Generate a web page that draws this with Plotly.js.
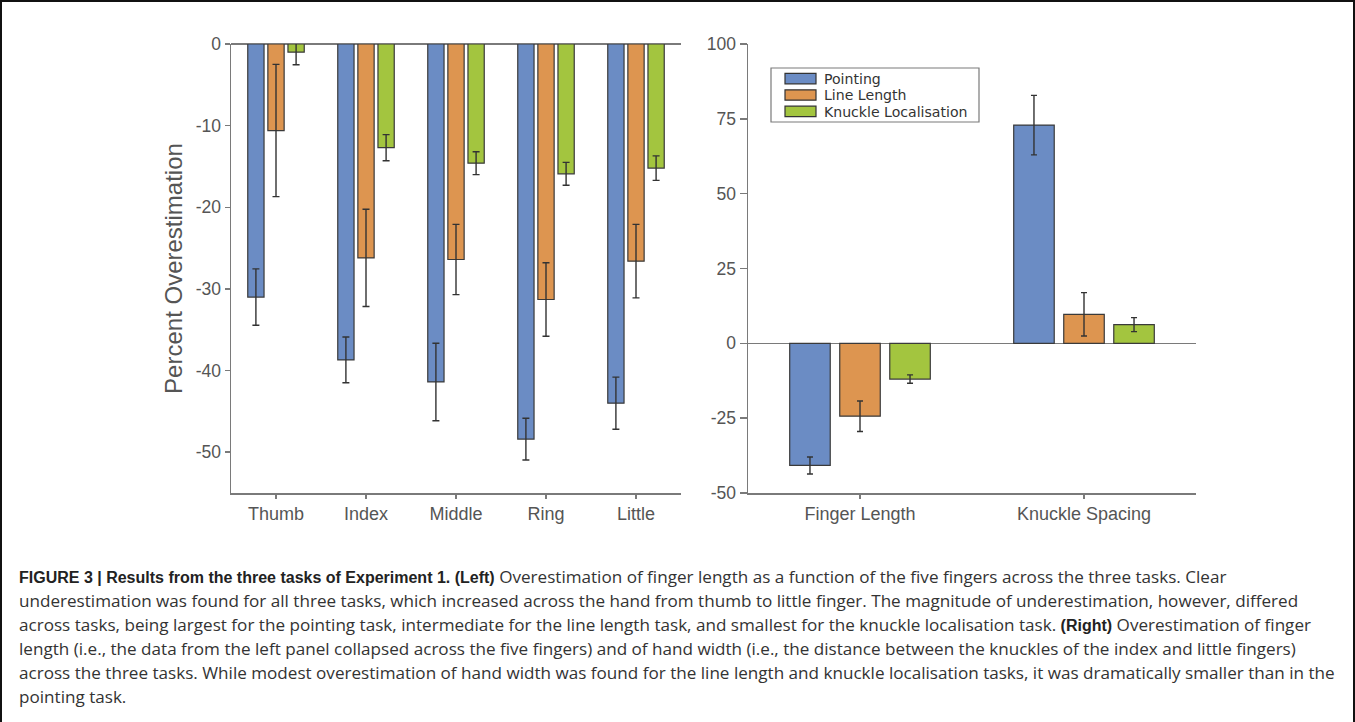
<!DOCTYPE html>
<html>
<head>
<meta charset="utf-8">
<script src="https://cdn.plot.ly/plotly-3.0.1.min.js"></script>
<style>
  html, body { margin: 0; padding: 0; background: #fff; }
  #chart { width: 1355px; height: 722px; }
</style>
</head>
<body>
<div id="chart"></div>
<script>
// ---- data ----
const seriesNames = ['Pointing', 'Line Length', 'Knuckle Localisation'];
const seriesColors = ['#6b8cc4', '#dd9550', '#a3c53f'];

const fingers = ['Thumb', 'Index', 'Middle', 'Ring', 'Little'];
const fingerPointing = [-31.0, -38.7, -41.4, -48.4, -44.0];
const fingerPointingErr = [3.45, 2.8, 4.75, 2.55, 3.2];
const fingerLineLength = [-10.6, -26.2, -26.4, -31.3, -26.6];
const fingerLineLengthErr = [8.1, 5.95, 4.3, 4.5, 4.5];
const fingerKnuckle = [-1.0, -12.7, -14.6, -15.9, -15.2];
const fingerKnuckleErr = [1.55, 1.6, 1.4, 1.4, 1.5];

const measures = ['Finger Length', 'Knuckle Spacing'];
const measurePointing = [-40.8, 72.9];
const measurePointingErr = [2.85, 9.95];
const measureLineLength = [-24.35, 9.7];
const measureLineLengthErr = [5.1, 7.25];
const measureKnuckle = [-11.95, 6.25];
const measureKnuckleErr = [1.4, 2.35];

const leftTickVals = [0, -10, -20, -30, -40, -50];
const leftTickText = ['0', '-10', '-20', '-30', '-40', '-50'];
const rightTickVals = [100, 75, 50, 25, 0, -25, -50];
const rightTickText = ['100', '75', '50', '25', '0', '-25', '-50'];

const yTitle = 'Percent Overestimation';

const captionBold1 = 'FIGURE 3 | Results from the three tasks of Experiment 1. (Left)';
const captionBold2 = '(Right)';
const captionLines = [
  '{B1} Overestimation of finger length as a function of the five fingers across the three tasks. Clear',
  'underestimation was found for all three tasks, which increased across the hand from thumb to little finger. The magnitude of underestimation, however, differed',
  'across tasks, being largest for the pointing task, intermediate for the line length task, and smallest for the knuckle localisation task. {B2} Overestimation of finger',
  'length (i.e., the data from the left panel collapsed across the five fingers) and of hand width (i.e., the distance between the knuckles of the index and little fingers)',
  'across the three tasks. While modest overestimation of hand width was found for the line length and knuckle localisation tasks, it was dramatically smaller than in the',
  'pointing task.'
];

// ---- build ----
const W = 1355, H = 722;
const px = x => x / W;
const py = y => 1 - y / H;
const FONT = 'Liberation Sans, Arial, sans-serif';

const leftSeries = [
  [fingerPointing, fingerPointingErr],
  [fingerLineLength, fingerLineLengthErr],
  [fingerKnuckle, fingerKnuckleErr]
];
const rightSeries = [
  [measurePointing, measurePointingErr],
  [measureLineLength, measureLineLengthErr],
  [measureKnuckle, measureKnuckleErr]
];

const errStyle = { type: 'data', visible: true, color: '#333333', thickness: 1.4, width: 3.5 };
const traces = [];
leftSeries.forEach((s, i) => {
  traces.push({
    type: 'bar', name: seriesNames[i], x: fingers, y: s[0],
    error_y: Object.assign({ array: s[1] }, errStyle),
    marker: { color: seriesColors[i], line: { color: '#3a3a3a', width: 1.2 } },
    xaxis: 'x', yaxis: 'y', showlegend: false, hoverinfo: 'x+y'
  });
});
rightSeries.forEach((s, i) => {
  traces.push({
    type: 'bar', name: seriesNames[i], x: measures, y: s[0],
    error_y: Object.assign({ array: s[1] }, errStyle, { width: 3 }),
    marker: { color: seriesColors[i], line: { color: '#3a3a3a', width: 1.2 } },
    xaxis: 'x2', yaxis: 'y2', showlegend: false, hoverinfo: 'x+y'
  });
});

const axisCommon = {
  showline: true, linecolor: '#7a7a7a', linewidth: 1.5,
  showgrid: false, ticks: 'outside', tickcolor: '#7a7a7a', tickwidth: 1.5,
  tickfont: { family: FONT, size: 17.5, color: '#555555' }
};

const shapes = [];
const annotations = [];

// custom legend box
shapes.push({ type: 'rect', xref: 'paper', yref: 'paper',
  x0: px(771), x1: px(979), y0: py(122), y1: py(68),
  line: { color: '#7a7a7a', width: 1.2 }, fillcolor: '#ffffff', layer: 'above' });
const legendRows = [78.6, 95.0, 111.4];
seriesNames.forEach((n, i) => {
  shapes.push({ type: 'rect', xref: 'paper', yref: 'paper',
    x0: px(785), x1: px(816), y0: py(legendRows[i] + 5.2), y1: py(legendRows[i] - 5.2),
    line: { color: '#333333', width: 1.2 }, fillcolor: seriesColors[i], layer: 'above' });
  annotations.push({ xref: 'paper', yref: 'paper', x: px(822), y: py(legendRows[i] + 0.3),
    xanchor: 'left', yanchor: 'middle', showarrow: false, text: n,
    font: { family: 'DejaVu Sans, Liberation Sans, sans-serif', size: 14.1, color: '#333333' } });
});

// figure frame
shapes.push({ type: 'line', xref: 'paper', yref: 'paper', x0: 0, x1: 1, y0: py(1), y1: py(1),
  line: { color: '#111111', width: 2 } });
shapes.push({ type: 'line', xref: 'paper', yref: 'paper', x0: px(1), x1: px(1), y0: 0, y1: 1,
  line: { color: '#111111', width: 2 } });
shapes.push({ type: 'line', xref: 'paper', yref: 'paper', x0: px(1354), x1: px(1354), y0: 0, y1: 1,
  line: { color: '#111111', width: 2 } });

// caption
const boldSpan = t => '<span style="font-family:Liberation Sans, Arial, sans-serif;font-size:16px;color:#222222"><b>' + t + '</b></span>';
const captionY = [576, 600, 624, 648, 672, 696];
captionLines.forEach((t, i) => {
  const txt = t.replace('{B1}', boldSpan(captionBold1)).replace('{B2}', boldSpan(captionBold2));
  annotations.push({ xref: 'paper', yref: 'paper', x: px(17), y: py(captionY[i]),
    xanchor: 'left', yanchor: 'middle', align: 'left', showarrow: false, text: txt,
    font: { family: 'Open Sans, Liberation Sans, Arial, sans-serif', size: 17.1, color: '#333333' } });
});

const layout = {
  width: W, height: H,
  margin: { l: 0, r: 0, t: 0, b: 0 },
  paper_bgcolor: '#ffffff', plot_bgcolor: '#ffffff',
  showlegend: false,
  barmode: 'group', bargap: 0.33, bargroupgap: 0.19,
  font: { family: FONT, color: '#555555' },
  xaxis: Object.assign({}, axisCommon, {
    domain: [px(231), px(681)], anchor: 'y', range: [-0.5, 4.5],
    ticklen: 4, tickfont: { family: FONT, size: 18, color: '#555555' }
  }),
  yaxis: Object.assign({}, axisCommon, {
    domain: [py(493), py(44)], anchor: 'x', range: [-55, 0],
    tickvals: leftTickVals, ticktext: leftTickText, ticklen: 5,
    zeroline: true, zerolinecolor: '#7a7a7a', zerolinewidth: 1.5,
    title: { text: yTitle, standoff: 6, font: { family: FONT, size: 24, color: '#555555' } }
  }),
  xaxis2: Object.assign({}, axisCommon, {
    domain: [px(748), px(1196)], anchor: 'y2', range: [-0.5, 1.5],
    ticklen: 4, tickfont: { family: FONT, size: 18, color: '#555555' }
  }),
  yaxis2: Object.assign({}, axisCommon, {
    domain: [py(493), py(44)], anchor: 'x2', range: [-50, 100],
    tickvals: rightTickVals, ticktext: rightTickText, ticklen: 7,
    zeroline: true, zerolinecolor: '#7a7a7a', zerolinewidth: 1.5
  }),
  shapes: shapes,
  annotations: annotations
};

Plotly.newPlot('chart', traces, layout, { displayModeBar: false, staticPlot: true });
</script>
</body>
</html>
